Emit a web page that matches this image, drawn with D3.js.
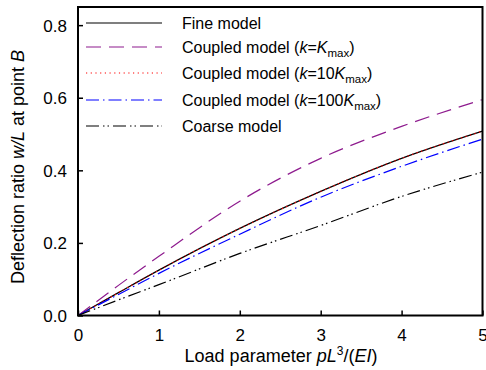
<html>
<head>
<style>
  body { margin: 0; background: #fff; }
  svg text { font-family: "Liberation Sans", Arial, sans-serif; fill: #000; }
</style>
</head>
<body>
<svg id="chart" width="486" height="370"></svg>
<script src="https://d3js.org/d3.v7.min.js"></script>
<script>
// values
var loads   = [0, 0.5, 1, 2, 3, 4, 5];
var fine    = [0, 0.063, 0.125, 0.240, 0.342, 0.433, 0.508];
var kmax    = [0, 0.083, 0.163, 0.315, 0.433, 0.521, 0.595];
var k10     = [0, 0.063, 0.125, 0.240, 0.342, 0.433, 0.508];
var k100    = [0, 0.058, 0.116, 0.224, 0.326, 0.411, 0.486];
var coarse  = [0, 0.043, 0.085, 0.171, 0.248, 0.328, 0.395];
var xTicks  = [0, 1, 2, 3, 4, 5];
var yTicks  = [0, 0.2, 0.4, 0.6, 0.8];

var series = [
  {vals: fine,   color: "#000",    dash: null,            label: [["Fine model", ""]]},
  {vals: kmax,   color: "#8e1b8e", dash: "15,8",          label: [["Coupled model (", ""], ["k", "i"], ["=", ""], ["K", "i"], ["max", "s"], [")", ""]]},
  {vals: k10,    color: "#ff0000", dash: "1.2,3.5",       label: [["Coupled model (", ""], ["k", "i"], ["=10", ""], ["K", "i"], ["max", "s"], [")", ""]]},
  {vals: k100,   color: "#0000ff", dash: "13,4,1.5,4",    label: [["Coupled model (", ""], ["k", "i"], ["=100", ""], ["K", "i"], ["max", "s"], [")", ""]]},
  {vals: coarse, color: "#000",    dash: "13,4,1.5,3,1.5,4", label: [["Coarse model", ""]]}
];

var svg = d3.select("#chart");
var x = d3.scaleLinear().domain([0, 5]).range([78, 482.5]);
var y = d3.scaleLinear().domain([0, 0.85]).range([315.5, 7]);

var line = d3.line()
  .x(function(d, i) { return x(loads[i]); })
  .y(function(d) { return y(d); })
  .curve(d3.curveMonotoneX);

svg.append("defs").append("clipPath").attr("id", "clip")
  .append("rect").attr("x", 78).attr("y", 7).attr("width", 404.5).attr("height", 308.5);

var plot = svg.append("g").attr("clip-path", "url(#clip)");
series.forEach(function(s) {
  plot.append("path")
    .attr("d", line(s.vals))
    .attr("fill", "none")
    .attr("stroke", s.color)
    .attr("stroke-width", 1.2)
    .attr("stroke-dasharray", s.dash);
});

// axes with inward ticks
var xAxis = svg.append("g").attr("transform", "translate(0,315.5)")
  .call(d3.axisBottom(x).tickValues(xTicks).tickSize(-5).tickFormat(d3.format("d")));
var yAxis = svg.append("g").attr("transform", "translate(78,0)")
  .call(d3.axisLeft(y).tickValues(yTicks).tickSize(-5).tickFormat(d3.format(".1f")));
[xAxis, yAxis].forEach(function(a) {
  a.select(".domain").remove();
  a.selectAll(".tick line").attr("stroke", "#000").attr("stroke-width", 1.5);
  a.selectAll(".tick text").attr("font-size", 17).attr("font-family", "Liberation Sans, Arial, sans-serif").attr("fill", "#000");
});
xAxis.selectAll(".tick text").attr("dy", null).attr("y", 25);
yAxis.selectAll(".tick text").attr("x", -11).attr("dy", "0.35em");

svg.append("rect").attr("x", 78).attr("y", 7).attr("width", 404.5).attr("height", 308.5)
  .attr("fill", "none").attr("stroke", "#000").attr("stroke-width", 2);

// legend
var rows = [23, 47, 73, 100, 126];
var leg = svg.append("g");
series.forEach(function(s, i) {
  leg.append("line").attr("x1", 86).attr("x2", 162).attr("y1", rows[i]).attr("y2", rows[i])
    .attr("stroke", s.color).attr("stroke-width", 1.2).attr("stroke-dasharray", s.dash);
  var t = leg.append("text").attr("x", 182).attr("y", rows[i] + 6).attr("font-size", 16);
  s.label.forEach(function(p) {
    var sp = t.append("tspan").text(p[0]);
    if (p[1] === "i") sp.attr("font-style", "italic");
    if (p[1] === "s") sp.attr("font-size", 11.5).attr("dy", 4);
    if (p[1] === "" && sp.node().previousSibling && sp.node().previousSibling.textContent === "max") sp.attr("dy", -4);
  });
});

// axis titles
var xt = svg.append("text").attr("x", 281).attr("y", 362).attr("text-anchor", "middle").attr("font-size", 18);
xt.append("tspan").text("Load parameter ");
xt.append("tspan").attr("font-style", "italic").text("pL");
xt.append("tspan").attr("font-size", 12).attr("dy", -7).text("3");
xt.append("tspan").attr("dy", 7).text("/(");
xt.append("tspan").attr("font-style", "italic").text("EI");
xt.append("tspan").text(")");

var yt = svg.append("text").attr("transform", "translate(24,167) rotate(-90)")
  .attr("text-anchor", "middle").attr("font-size", 18);
yt.append("tspan").text("Deflection ratio ");
yt.append("tspan").attr("font-style", "italic").text("w/L");
yt.append("tspan").text(" at point ");
yt.append("tspan").attr("font-style", "italic").text("B");
</script>
</body>
</html>
